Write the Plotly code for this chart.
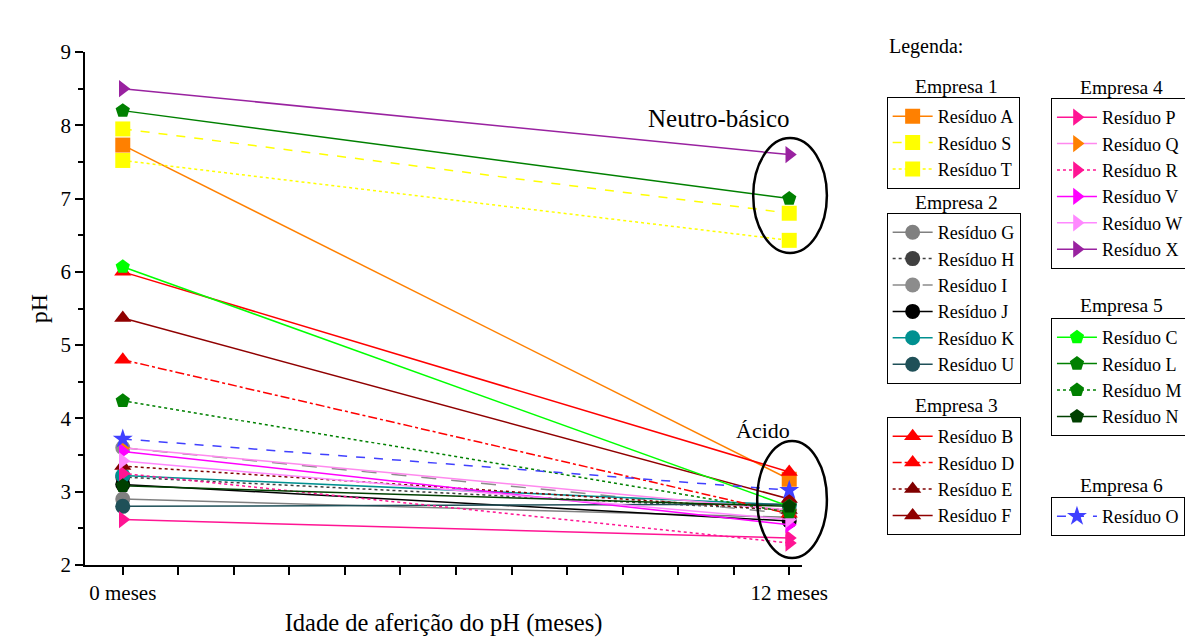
import plotly.graph_objects as go

# ---------------- data ----------------
meses = [0, 12]
x_tick_labels = ["0 meses", "12 meses"]

residuos = ["A", "S", "T",
            "G", "H", "I", "J", "K", "U",
            "B", "D", "E", "F",
            "P", "Q", "R", "V", "W", "X",
            "C", "L", "M", "N",
            "O"]
ph_0_meses = [7.73, 7.95, 7.52,
              2.90, 3.20, 3.60, 3.10, 3.22, 2.80,
              6.00, 4.80, 3.35, 5.37,
              2.62, 3.60, 3.25, 3.55, 3.42, 8.50,
              6.07, 8.20, 4.24, 3.08,
              3.72]
ph_12_meses = [3.17, 6.80, 6.43,
               2.65, 2.75, 2.70, 2.60, 2.82, 2.83,
               3.27, 2.70, 2.75, 2.90,
               2.37, 2.75, 2.30, 2.55, 2.62, 7.60,
               2.80, 7.00, 2.72, 2.80,
               3.02]
empresa = [1, 1, 1,
           2, 2, 2, 2, 2, 2,
           3, 3, 3, 3,
           4, 4, 4, 4, 4, 4,
           5, 5, 5, 5,
           6]
empresa_titulos = ["Empresa 1", "Empresa 2", "Empresa 3",
                   "Empresa 4", "Empresa 5", "Empresa 6"]

# ---------------- styles ----------------
line_colors = ["#FF8000", "#FFFF00", "#FFFF00",
               "#808080", "#404040", "#8C8C8C", "#000000", "#009090", "#1F5058",
               "#FF0000", "#FF0000", "#800000", "#900000",
               "#FF1493", "#FF88EE", "#FF1493", "#FF00FF", "#FF88FF", "#9922A0",
               "#00FF00", "#008000", "#008000", "#004000",
               "#4040FF"]
marker_colors = ["#FF8000", "#FFFF00", "#FFFF00",
                 "#808080", "#404040", "#8C8C8C", "#000000", "#009090", "#1F5058",
                 "#FF0000", "#FF0000", "#800000", "#900000",
                 "#FF1493", "#FF8000", "#FF1493", "#FF00FF", "#FF88FF", "#9922A0",
                 "#00FF00", "#008000", "#008000", "#004000",
                 "#4040FF"]
dashes = ["solid", "dash", "dot",
          "solid", "dot", "longdash", "solid", "solid", "solid",
          "solid", "dashdot", "dot", "solid",
          "solid", "solid", "dot", "solid", "solid", "solid",
          "solid", "solid", "dot", "solid",
          "dash"]
symbol_by_empresa = {1: "square", 2: "circle", 3: "triangle-up",
                     4: "triangle-right", 5: "pentagon", 6: "star"}

FONT = "Liberation Serif"

# page offset of the plot div (browser body margin)
OFF = 8
# plot area in page pixels: x 85..805, y 52..565
PL, PR, PT, PB = 85, 805, 52, 565


def px(xp):
    return (xp - PL) / float(PR - PL)


def py(yp):
    return (PB - yp) / float(PB - PT)


fig = go.Figure()
for i, r in enumerate(residuos):
    e = empresa[i]
    fig.add_trace(go.Scatter(
        x=meses, y=[ph_0_meses[i], ph_12_meses[i]],
        mode="lines+markers",
        name="Resíduo " + r,
        legend="legend" if e == 1 else "legend%d" % e,
        line=dict(color=line_colors[i], dash=dashes[i], width=1.5),
        marker=dict(symbol=symbol_by_empresa[e], color=marker_colors[i], size=15,
                    line=dict(width=0)),
    ))

legend_pos = {1: (890, 97), 2: (890, 213), 3: (890, 417),
              4: (1055, 98), 5: (1055, 318), 6: (1055, 497)}
title_pos = {1: (960, 86), 2: (960, 202), 3: (960, 405),
             4: (1126, 87), 5: (1126, 305), 6: (1126, 485)}

legends = {}
for e in range(1, 7):
    lx, ly = legend_pos[e]
    legends["legend" if e == 1 else "legend%d" % e] = dict(
        x=px(lx), y=py(ly), xanchor="left", yanchor="top",
        xref="paper", yref="paper",
        bordercolor="#000000", borderwidth=1, bgcolor="rgba(255,255,255,0)",
        font=dict(family=FONT, size=18, color="#000000"),
        tracegroupgap=0, itemwidth=40,
    )

annotations = []
for e in range(1, 7):
    tx, ty = title_pos[e]
    annotations.append(dict(x=px(tx), y=py(ty), xref="paper", yref="paper",
                            text=empresa_titulos[e - 1], showarrow=False,
                            xanchor="center", yanchor="middle",
                            font=dict(family=FONT, size=19.5, color="#000000")))
annotations.append(dict(x=px(890), y=py(47), xref="paper", yref="paper",
                        text="Legenda:", showarrow=False, xanchor="left",
                        yanchor="middle",
                        font=dict(family=FONT, size=20, color="#000000")))
annotations.append(dict(x=px(722), y=py(118), xref="paper", yref="paper",
                        text="Neutro-básico", showarrow=False,
                        xanchor="center", yanchor="middle",
                        font=dict(family=FONT, size=25, color="#000000")))
annotations.append(dict(x=px(766), y=py(430), xref="paper", yref="paper",
                        text="Ácido", showarrow=False,
                        xanchor="center", yanchor="middle",
                        font=dict(family=FONT, size=22, color="#000000")))

shapes = [
    dict(type="circle", xref="paper", yref="paper",
         x0=px(756), x1=px(830), y0=py(253), y1=py(138),
         line=dict(color="#000000", width=2.5)),
    dict(type="circle", xref="paper", yref="paper",
         x0=px(760), x1=px(830), y0=py(558), y1=py(441),
         line=dict(color="#000000", width=2.5)),
]

axis_common = dict(showline=True, linecolor="#000000", linewidth=1.5,
                   showgrid=False, zeroline=False, ticks="outside",
                   tickcolor="#000000", tickwidth=1.5, ticklen=8,
                   automargin=False,
                   tickfont=dict(family=FONT, size=21, color="#000000"))

W, H = 1193, 639
fig.update_layout(
    width=W, height=H,
    margin=dict(l=PL - OFF, r=W - (PR - OFF), t=PT - OFF, b=H - (PB - OFF)),
    paper_bgcolor="white", plot_bgcolor="white",
    font=dict(family=FONT, color="#000000"),
    xaxis=dict(range=[-0.68, 12.23], tickvals=list(range(13)),
               ticktext=[x_tick_labels[0]] + [""] * 11 + [x_tick_labels[1]],
               title=dict(text="Idade de aferição do pH (meses)",
                          font=dict(family=FONT, size=24.5), standoff=10),
               **axis_common),
    yaxis=dict(range=[2, 9], dtick=1,
               minor=dict(dtick=0.5, ticks="outside", ticklen=5,
                          tickcolor="#000000", tickwidth=1.5),
               title=dict(text="pH", font=dict(family=FONT, size=24), standoff=6),
               **axis_common),
    yaxis2=dict(range=[2, 9], dtick=1, overlaying="y", side="right", anchor="x",
                minor=dict(dtick=0.5, ticks="outside", ticklen=5,
                           tickcolor="#000000", tickwidth=1.5),
                title=dict(text="pH", font=dict(family=FONT, size=24), standoff=12),
                **axis_common),
    annotations=annotations,
    shapes=shapes,
    **legends,
)

fig.write_html("out.html")
